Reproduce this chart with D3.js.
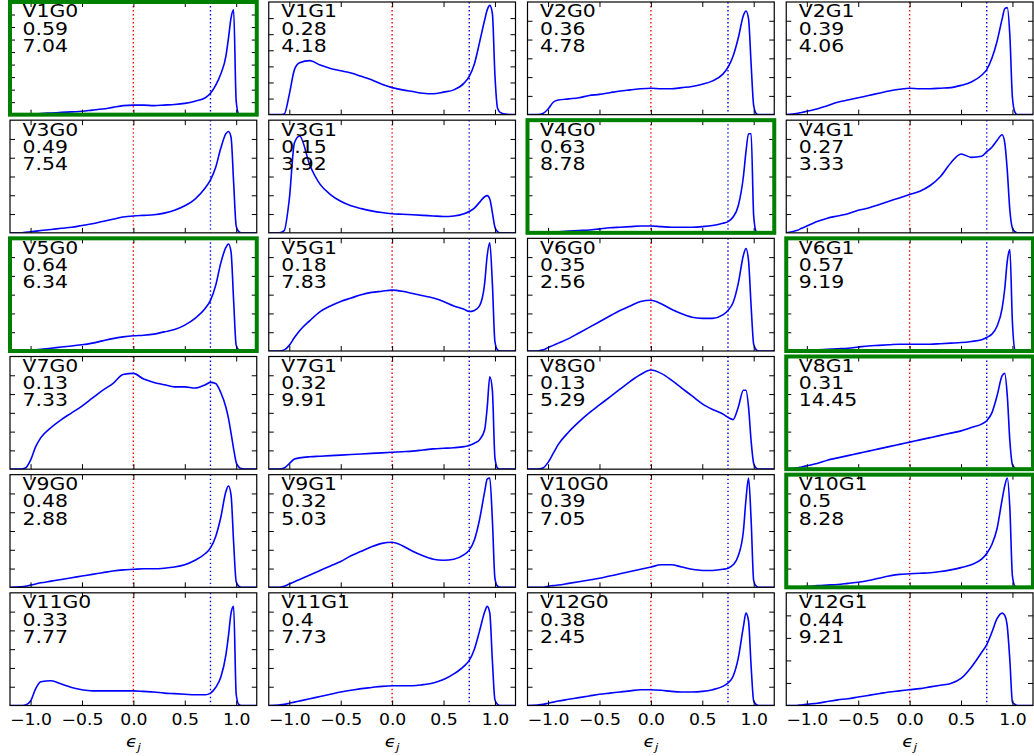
<!DOCTYPE html>
<html>
<head>
<meta charset="utf-8">
<script src="https://cdn.jsdelivr.net/npm/d3@7"></script>
<style>
  body { margin: 0; background: #fff; }
  svg { display: block; font-family: "DejaVu Sans", sans-serif; }
</style>
</head>
<body>
<div id="chart"></div>
<script>
// eps_j grid shared by every panel
var epsGrid = [-1.2, -1.1, -1.05, -1.0, -0.95, -0.9, -0.8, -0.7, -0.6, -0.5, -0.4, -0.3, -0.2, -0.1, 0,
  0.1, 0.2, 0.3, 0.4, 0.5, 0.6, 0.7, 0.75, 0.8, 0.85, 0.9, 0.925, 0.95, 0.975, 1.0, 1.025, 1.05, 1.1, 1.2];

// density (percent of each panel's y-axis top)
var dV1G0  = [0, 0, 0, 0.5, 0.7, 1, 1.5, 2, 2.5, 3, 4, 5, 6.5, 8, 8.5, 8.5, 8, 8.5, 9, 10, 12, 15, 19, 26, 36, 52, 68, 86, 93, 12, 0.5, 0, 0, 0];
var dV1G1  = [0, 0, 0.5, 18, 40, 46, 48, 44, 41, 39, 37, 34, 31, 27, 24, 22, 20.5, 19, 18.5, 20, 22, 28, 34, 45, 64, 84, 93, 97, 90, 35, 6, 2, 0.5, 0];
var dV2G0  = [0, 0, 1, 5, 11, 13, 14, 15, 17, 18, 19.5, 21, 22, 23, 23.5, 23, 23, 24, 25, 27, 30, 36, 42, 52, 68, 88, 92, 85, 45, 8, 1, 0, 0, 0];
var dV2G1  = [0, 1, 2, 3, 4, 5, 8, 11, 13, 15, 17, 19, 21, 22.5, 23.5, 23, 23, 23.5, 24, 26, 29, 35, 40, 50, 65, 85, 94, 95, 70, 15, 2, 0, 0, 0];
var dV3G0  = [0, 0, 0.5, 1, 1.5, 2, 3, 4, 5, 6.5, 8, 10, 12, 14, 15, 15.5, 16, 17.5, 20, 24, 30, 40, 47, 58, 75, 88, 90, 85, 45, 6, 1, 0, 0, 0];
var dV3G1  = [0, 0, 2, 30, 80, 86, 60, 43, 34, 28, 24, 21.5, 19.5, 18, 17, 16.5, 16, 15.5, 15, 14.5, 15, 17, 19, 22, 27, 32, 33, 30, 18, 5, 1, 0, 0, 0];
var dV4G0  = [0, 0, 0, 0.5, 0.7, 1, 1.5, 2, 2.5, 3.5, 4.5, 5, 5.5, 6, 6, 5.5, 5, 5, 5, 5.5, 6.5, 8.5, 10, 14, 24, 50, 72, 88, 88, 15, 1, 0, 0, 0];
var dV4G1  = [0, 2, 4, 6, 8, 10, 13, 15, 17, 20, 22, 25, 28, 31, 34, 37, 42, 50, 62, 70, 67, 68, 72, 76, 82, 87, 80, 55, 20, 4, 1, 0, 0, 0];
var dV5G0  = [0, 0, 0, 0.5, 1, 1.5, 2.5, 3.5, 4.5, 5.5, 7, 9, 11, 12.5, 13.5, 14, 15, 17, 19, 23, 29, 38, 45, 58, 78, 92, 95, 88, 45, 5, 1, 0, 0, 0];
var dV5G1  = [0, 0, 1, 5, 12, 18, 27, 35, 40, 44, 47, 50, 52, 53, 54, 53, 51, 49, 47, 44, 40, 37, 35, 36, 40, 60, 85, 96, 60, 8, 1, 0, 0, 0];
var dV6G0  = [0, 0, 1, 3, 5, 7, 11, 16, 21, 26, 31, 36, 40, 44, 45, 42, 37, 33, 30, 29, 29, 32, 36, 43, 60, 85, 91, 80, 40, 6, 1, 0, 0, 0];
var dV6G1  = [0, 0, 0, 0.5, 0.8, 1, 1.5, 2, 2.5, 3.5, 4.5, 5, 5.5, 6, 6, 6, 6, 6.5, 7, 7.5, 8.5, 10, 12, 15, 22, 38, 55, 80, 90, 25, 1, 0, 0, 0];
var dV7G0  = [0, 0, 1, 8, 20, 28, 37, 44, 50, 56, 63, 70, 76, 84, 85, 80, 77, 75, 73, 73, 72, 75, 77, 76, 68, 55, 45, 32, 18, 6, 2, 0.5, 0, 0];
var dV7G1  = [0, 0, 1, 5, 9, 10, 11, 11.5, 12, 12.5, 13, 13.5, 14, 14.5, 15, 15.5, 16, 17, 18, 18.5, 19, 20, 21, 23, 26, 35, 55, 82, 70, 10, 1, 0, 0, 0];
var dV8G0  = [0, 0, 1, 6, 14, 22, 33, 42, 50, 57, 64, 71, 78, 84, 88, 85, 79, 72, 65, 58, 53, 49, 46, 44, 55, 70, 70, 55, 25, 5, 1, 0, 0, 0];
var dV8G1  = [0, 1, 2, 3, 4, 5, 8, 10, 12, 14, 16, 18, 20, 22, 24, 26, 28, 30, 32, 34, 37, 40, 43, 50, 65, 83, 85, 65, 25, 4, 1, 0, 0, 0];
var dV9G0  = [0, 0.5, 1, 2, 3, 4, 5.5, 7, 8.5, 10, 11.5, 13, 14.5, 15.5, 16, 16.5, 16.5, 17, 18, 20, 24, 30, 35, 45, 62, 85, 90, 82, 40, 5, 1, 0, 0, 0];
var dV9G1  = [0, 0, 1, 3, 5, 7, 11, 15, 19, 23, 28, 32, 36, 39, 40, 37, 32, 28, 25, 24, 25, 29, 33, 42, 60, 85, 96, 97, 60, 8, 1, 0, 0, 0];
var dV10G0 = [0, 0, 0, 1, 1.5, 2, 3.5, 5, 6.5, 8, 10, 12, 14, 16, 18, 20, 20, 18, 16, 15, 15, 16, 17, 20, 28, 50, 78, 97, 60, 6, 1, 0, 0, 0];
var dV10G1 = [0, 0, 0, 1, 1, 1.5, 2, 2.5, 3.5, 4.5, 6, 8, 10, 11.5, 12, 12.5, 13, 14, 15.5, 17.5, 20, 25, 30, 38, 52, 78, 90, 97, 70, 10, 1, 0, 0, 0];
var dV11G0 = [0, 0, 0.5, 4, 15, 21, 22, 19, 16, 14, 13, 13, 13, 13, 13, 12.5, 12, 11, 10.5, 10, 9.5, 9.5, 11, 16, 25, 45, 62, 82, 88, 10, 1, 0, 0, 0];
var dV11G1 = [0, 0.5, 1, 2, 3, 4, 6, 8, 10, 12, 13.5, 15, 16, 17, 17.5, 17.5, 17.5, 18.5, 20, 23, 28, 35, 40, 50, 66, 83, 88, 82, 40, 5, 1, 0, 0, 0];
var dV12G0 = [0, 0.5, 1, 2, 3, 4, 5.5, 7, 8.5, 10, 11, 12, 13, 14, 14, 13.5, 12.5, 12, 12, 12.5, 14, 17, 20, 26, 42, 70, 82, 75, 35, 4, 1, 0, 0, 0];
var dV12G1 = [0, 0, 0.5, 1, 1.5, 2, 3.5, 5, 6, 7.5, 9, 10.5, 12, 13, 14, 15, 16.5, 18, 19.5, 24, 34, 47, 54, 65, 77, 82, 80, 70, 40, 3, 1, 0, 0, 0];

var panelNames = [ "V1G0", "V1G1", "V2G0", "V2G1", "V3G0", "V3G1", "V4G0", "V4G1",
  "V5G0", "V5G1", "V6G0", "V6G1", "V7G0", "V7G1", "V8G0", "V8G1",
  "V9G0", "V9G1", "V10G0", "V10G1", "V11G0", "V11G1", "V12G0", "V12G1" ];
var series = [ dV1G0, dV1G1, dV2G0, dV2G1, dV3G0, dV3G1, dV4G0, dV4G1,
  dV5G0, dV5G1, dV6G0, dV6G1, dV7G0, dV7G1, dV8G0, dV8G1,
  dV9G0, dV9G1, dV10G0, dV10G1, dV11G0, dV11G1, dV12G0, dV12G1 ];
var statA = [ "0.59", "0.28", "0.36", "0.39", "0.49", "0.15", "0.63", "0.27",
  "0.64", "0.18", "0.35", "0.57", "0.13", "0.32", "0.13", "0.31",
  "0.48", "0.32", "0.39", "0.5", "0.33", "0.4", "0.38", "0.44" ];
var statB = [ "7.04", "4.18", "4.78", "4.06", "7.54", "3.92", "8.78", "3.33",
  "6.34", "7.83", "2.56", "9.19", "7.33", "9.91", "5.29", "14.45",
  "2.88", "5.03", "7.05", "8.28", "7.77", "7.73", "2.45", "9.21" ];
var highlighted = [ "V1G0", "V4G0", "V5G0", "V6G1", "V8G1", "V10G1" ];
// number of y tick intervals on each panel
var yTickCounts = [ 9, 7, 6, 6, 6, 6, 6, 6,
  6, 6, 6, 6, 6, 6, 6, 6,
  6, 6, 6, 6, 6, 6, 6, 5 ];
var xTicks = [ -1.0, -0.5, 0.0, 0.5, 1.0 ];
var markerLines = [ { at: 0, color: "red" }, { at: 0.75, color: "blue" } ];

var W = 1034, H = 756;
var gridLeft = 10, gridRight = 1033, gridTop = 2, gridBottom = 705.5;
var nCols = 4, nRows = 6, colGap = 12, rowGap = 5.5;
var pw = ( gridRight - gridLeft - colGap * ( nCols - 1 ) ) / nCols;
var ph = ( gridBottom - gridTop - rowGap * ( nRows - 1 ) ) / nRows;
var stretch = 1.2; // the glyphs in the picture are a bit wider than tall

var svg = d3.select( "#chart" ).append( "svg" )
  .attr( "width", W )
  .attr( "height", H );

var x = d3.scaleLinear().domain( [ -1.2, 1.2 ] ).range( [ 0, pw ] );
var minus = function ( v ) { return d3.format( ".1f" )( v ).replace( "-", "\u2212" ); };

panelNames.forEach( function ( pname, i ) {
  var col = i % nCols, row = Math.floor( i / nCols );
  var px = gridLeft + col * ( pw + colGap );
  var py = gridTop + row * ( ph + rowGap );
  var n = yTickCounts[ i ];
  var y = d3.scaleLinear().domain( [ 0, 100 ] ).range( [ ph, 0 ] );
  var yTickVals = d3.range( 1, n ).map( function ( k ) { return k * 100 / n; } );

  var g = svg.append( "g" ).attr( "transform", "translate(" + px + "," + py + ")" );

  g.append( "clipPath" ).attr( "id", "clip" + i )
    .append( "rect" ).attr( "width", pw ).attr( "height", ph );

  var plot = g.append( "g" ).attr( "clip-path", "url(#clip" + i + ")" );

  markerLines.forEach( function ( m ) {
    plot.append( "line" )
      .attr( "x1", x( m.at ) ).attr( "x2", x( m.at ) )
      .attr( "y1", 0 ).attr( "y2", ph )
      .attr( "stroke", m.color )
      .attr( "stroke-width", 1.4 )
      .attr( "stroke-dasharray", "1.4,2.6" );
  } );

  var pts = epsGrid.map( function ( e, k ) { return [ e, series[ i ][ k ] ]; } );
  plot.append( "path" )
    .datum( pts )
    .attr( "fill", "none" )
    .attr( "stroke", "#0000ff" )
    .attr( "stroke-width", 1.6 )
    .attr( "d", d3.line()
      .x( function ( d ) { return x( d[ 0 ] ); } )
      .y( function ( d ) { return y( d[ 1 ] ); } )
      .curve( d3.curveMonotoneX ) );

  // inward ticks on all four sides
  var axes = [
    { ax: d3.axisLeft( y ).tickValues( yTickVals ), t: "translate(0,0)" },
    { ax: d3.axisRight( y ).tickValues( yTickVals ), t: "translate(" + pw + ",0)" },
    { ax: d3.axisTop( x ).tickValues( xTicks ), t: "translate(0,0)" },
    { ax: d3.axisBottom( x ).tickValues( xTicks ), t: "translate(0," + ph + ")" }
  ];
  axes.forEach( function ( a, k ) {
    var labelled = ( k === 3 && row === nRows - 1 );
    a.ax.tickSize( -5 ).tickPadding( 8.5 )
      .tickFormat( labelled ? minus : "" );
    var ag = g.append( "g" ).attr( "transform", a.t ).call( a.ax );
    ag.select( ".domain" ).remove();
    ag.selectAll( "line" ).attr( "stroke", "#000" ).attr( "stroke-width", 1 );
    if ( !labelled ) {
      ag.selectAll( "text" ).remove();
      return;
    }
    ag.selectAll( "text" )
      .attr( "fill", "#000" )
      .attr( "transform", "scale(1.15,1)" )
      .style( "font-size", "15px" )
      .style( "font-family", "'DejaVu Sans', sans-serif" );
  } );

  var isHi = highlighted.indexOf( pname ) >= 0;
  g.append( "rect" )
    .attr( "width", pw ).attr( "height", ph )
    .attr( "fill", "none" )
    .attr( "stroke", isHi ? "#008000" : "#000" )
    .attr( "stroke-width", isHi ? 4 : 1.2 );

  var txt = g.append( "text" )
    .attr( "transform", "translate(12.5,0) scale(" + stretch + ",1)" )
    .style( "font-size", "17px" )
    .attr( "fill", "#000" );
  [ pname, statA[ i ], statB[ i ] ].forEach( function ( s, k ) {
    txt.append( "tspan" ).attr( "x", 0 ).attr( "y", 15.5 + k * 17.2 ).text( s );
  } );

  if ( row === nRows - 1 ) {
    var lab = g.append( "text" )
      .attr( "transform", "translate(" + ( pw / 2 ) + "," + ( ph + 41 ) + ") scale(1.15,1)" )
      .attr( "text-anchor", "middle" )
      .style( "font-size", "16px" )
      .attr( "fill", "#000" );
    lab.append( "tspan" ).style( "font-style", "italic" ).text( "\u03F5" );
    lab.append( "tspan" ).style( "font-style", "italic" ).style( "font-size", "11px" )
      .attr( "dy", 4 ).text( "j" );
  }
} );
</script>
</body>
</html>
